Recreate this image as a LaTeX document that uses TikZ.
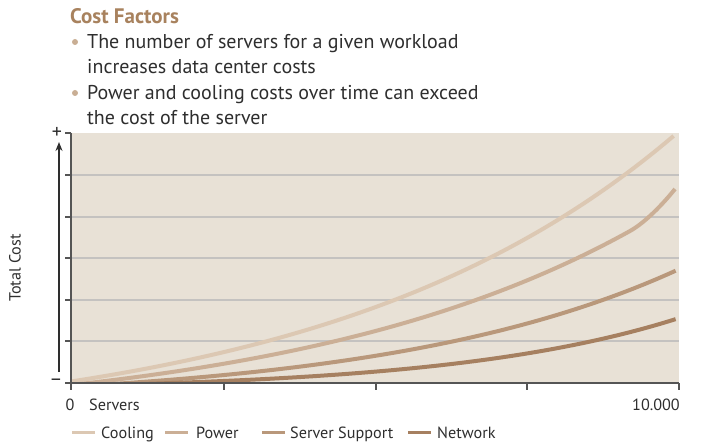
\documentclass[tikz,border=0pt]{standalone}
\usepackage{fontspec}
\setmainfont{PT Sans}
\usetikzlibrary{arrows.meta}
\definecolor{plotbg}{HTML}{E8E1D6}
\definecolor{gridc}{HTML}{C4C2C0}
\definecolor{axisc}{HTML}{555555}
\definecolor{txt}{HTML}{2E2E2E}
\definecolor{titlec}{HTML}{A8825E}
\definecolor{bulletc}{HTML}{C9AE94}
\definecolor{cCool}{HTML}{DCC8B3}
\definecolor{cPower}{HTML}{CBAF96}
\definecolor{cSupport}{HTML}{B9987B}
\definecolor{cNet}{HTML}{A68060}
\tikzset{
  curve/.style={line width=4pt, line join=round},
  gridline/.style={draw=gridc, line width=1.2pt},
  axisline/.style={draw=axisc, line width=1.3pt},
  bodytext/.style={font=\fontsize{20}{22}\selectfont, text=txt, anchor=base west, inner sep=0pt},
  smalltext/.style={font=\fontsize{16.2}{18}\selectfont, text=txt, inner sep=0pt},
  signtext/.style={font=\fontsize{20}{22}\selectfont, text=txt, inner sep=0pt},
  legline/.style={line width=3pt},
  bulletdot/.style={circle, fill=bulletc, inner sep=0pt, minimum size=6pt}
}
\begin{document}
\begin{tikzpicture}[x=1pt,y=-1pt]
\useasboundingbox (0,0) rectangle (701,443);
% header
\node[font=\fontsize{21}{23}\selectfont\bfseries, text=titlec, anchor=base west, inner sep=0pt] (title) at (70,24) {Cost Factors};
\node[bulletdot] (b1) at (75,42) {};
\node[bodytext] (l1) at (87,49) {The number of servers for a given workload};
\node[bodytext] (l2) at (87,74) {increases data center costs};
\node[bulletdot] (b2) at (75,93) {};
\node[bodytext] (l3) at (87,100) {Power and cooling costs over time can exceed};
\node[bodytext] (l4) at (87,125) {the cost of the server};
% plot area
\fill[plotbg] (71,133) rectangle (679,383);
\foreach \gy in {175,217,258,300,341} {
  \draw[gridline] (71,\gy) -- (679,\gy);
}
% cost curves: exponential growth over the server count
\begin{scope}
\clip (71,130) rectangle (679,383);
\draw[curve, cCool] plot[domain=0:1, samples=80, variable=\u]
  ({71+603*\u}, {381.5-54.1*(exp(1.713*\u)-1)});
\draw[curve, cPower] plot[domain=0:0.96, samples=80, variable=\u]
  ({80+573*\u}, {384-39.5*(exp(1.65*\u)-1)})
  .. controls (645,222.7) and (663,204) .. (675,189);
\draw[curve, cSupport] plot[domain=0:1, samples=80, variable=\u]
  ({105+571*\u}, {384.5-18.9*(exp(1.95*\u)-1)});
\draw[curve, cNet] plot[domain=0:1, samples=80, variable=\u]
  ({105+571*\u}, {385-5.9*(exp(2.5*\u)-1)});
\end{scope}
% axes
\draw[axisline] (71,133) -- (71,390);
\draw[axisline] (71,383) -- (679,383);
\foreach \gy in {133,175,217,258,300,341,383} {
  \draw[axisline] (65,\gy) -- (71,\gy);
}
\foreach \gx in {224,376,527,679} {
  \draw[axisline] (\gx,383) -- (\gx,390);
}
\node[signtext] (plus) at (57,133) {+};
\node[signtext] (minus) at (56,382) {–};
\coordinate (arrlow) at (59,372);
\coordinate (arrhigh) at (59,142);
\draw[line width=2.6pt, draw=txt, -{Stealth[length=9pt,width=7pt]}] (arrlow) -- (arrhigh);
\node[smalltext, rotate=90] (ylab) at (15,268) {Total Cost};
% x labels
\node[smalltext, anchor=base] (zero) at (70,410) {0};
\node[smalltext, anchor=base west] (xlab) at (89,410) {Servers};
\node[smalltext, anchor=base east] (xmax) at (680,410) {10.000};
% legend
\coordinate (lg1a) at (72,432); \coordinate (lg1b) at (95,432);
\draw[legline, cCool] (lg1a) -- (lg1b);
\node[smalltext, anchor=base west] (lcool) at (101,438) {Cooling};
\coordinate (lg2a) at (165,432); \coordinate (lg2b) at (188,432);
\draw[legline, cPower] (lg2a) -- (lg2b);
\node[smalltext, anchor=base west] (lpower) at (196,438) {Power};
\coordinate (lg3a) at (262,432); \coordinate (lg3b) at (285,432);
\draw[legline, cSupport] (lg3a) -- (lg3b);
\node[smalltext, anchor=base west] (lsupport) at (290,438) {Server Support};
\coordinate (lg4a) at (408,432); \coordinate (lg4b) at (431,432);
\draw[legline, cNet] (lg4a) -- (lg4b);
\node[smalltext, anchor=base west] (lnet) at (437,438) {Network};
\end{tikzpicture}
\end{document}
